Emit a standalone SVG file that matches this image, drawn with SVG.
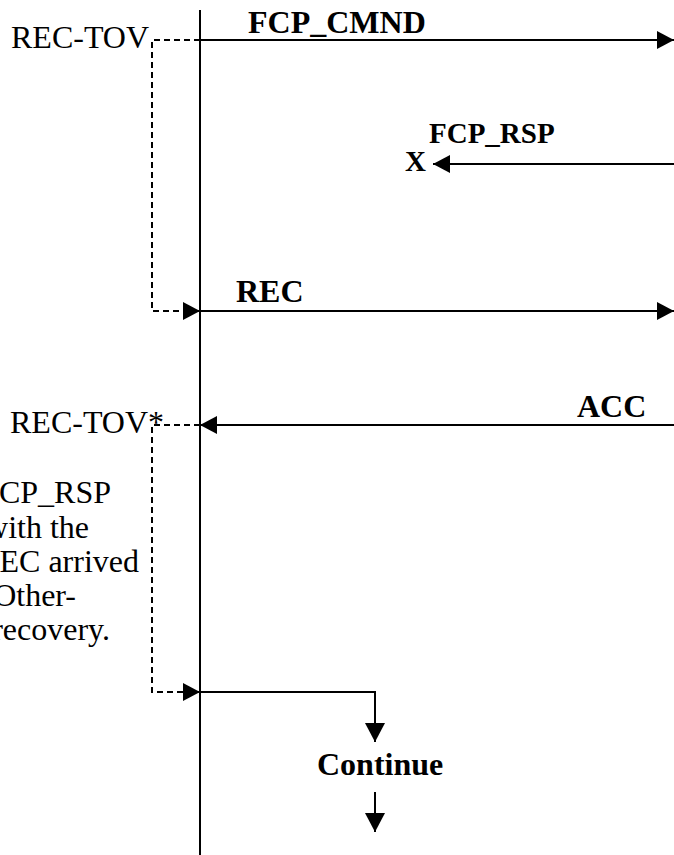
<svg xmlns="http://www.w3.org/2000/svg" width="674" height="855" viewBox="0 0 674 855">
<defs>
<style>
.t{font-family:"Liberation Serif","Times New Roman",serif;font-size:32px;fill:#000}
.b{font-weight:bold}
.s{font-size:29px}
.ln{stroke:#000;stroke-width:2;fill:none}
.dl{stroke:#000;stroke-width:2;fill:none;stroke-dasharray:6 4}
</style>
<marker id="ah" viewBox="0 0 17 18" refX="17" refY="9" markerWidth="17" markerHeight="18" markerUnits="userSpaceOnUse" orient="auto">
<path d="M0,0 L17,9 L0,18 Z" fill="#000"/>
</marker>
<marker id="ad" viewBox="0 0 19 20" refX="19" refY="10" markerWidth="19" markerHeight="20" markerUnits="userSpaceOnUse" orient="auto">
<path d="M0,0 L19,10 L0,20 Z" fill="#000"/>
</marker>
</defs>
<rect width="674" height="855" fill="#fff"/>
<g id="lifeline"><line class="ln" x1="200" y1="10" x2="200" y2="855"/></g>
<g id="connectors">
<line class="ln" x1="200" y1="40" x2="674" y2="40" marker-end="url(#ah)"/>
<line class="ln" x1="674" y1="164" x2="433" y2="164" marker-end="url(#ah)"/>
<line class="ln" x1="200" y1="311" x2="674" y2="311" marker-end="url(#ah)"/>
<line class="ln" x1="674" y1="425" x2="200" y2="425" marker-end="url(#ah)"/>
<path class="dl" d="M200,40 H152 V311 H200" marker-end="url(#ah)"/>
<path class="dl" d="M200,425 H152 V692 H200" marker-end="url(#ah)"/>
<path class="ln" d="M200,692 H375 V742" marker-end="url(#ad)"/>
<line class="ln" x1="375" y1="792" x2="375" y2="832" marker-end="url(#ad)"/>
</g>
<g id="rec-tov"><text class="t" x="11" y="48">REC-TOV</text></g>
<g id="fcp-cmnd"><text class="t b" x="248" y="33">FCP_CMND</text></g>
<g id="fcp-rsp"><text class="t b s" x="429" y="143">FCP_RSP</text><text class="t b s" x="405" y="171">X</text></g>
<g id="rec"><text class="t b" x="236" y="302">REC</text></g>
<g id="acc"><text class="t b" x="577" y="417">ACC</text></g>
<g id="rec-tov-star"><text class="t" x="10" y="433">REC-TOV*</text></g>
<g id="note">
<text class="t" x="111" y="503" text-anchor="end">FCP_RSP</text>
<text class="t" x="89" y="538" text-anchor="end">with the</text>
<text class="t" x="139" y="572" text-anchor="end">REC arrived</text>
<text class="t" x="76" y="606" text-anchor="end">Other-</text>
<text class="t" x="110" y="640" text-anchor="end">recovery.</text>
</g>
<g id="continue"><text class="t b" x="317" y="775">Continue</text></g>
</svg>
